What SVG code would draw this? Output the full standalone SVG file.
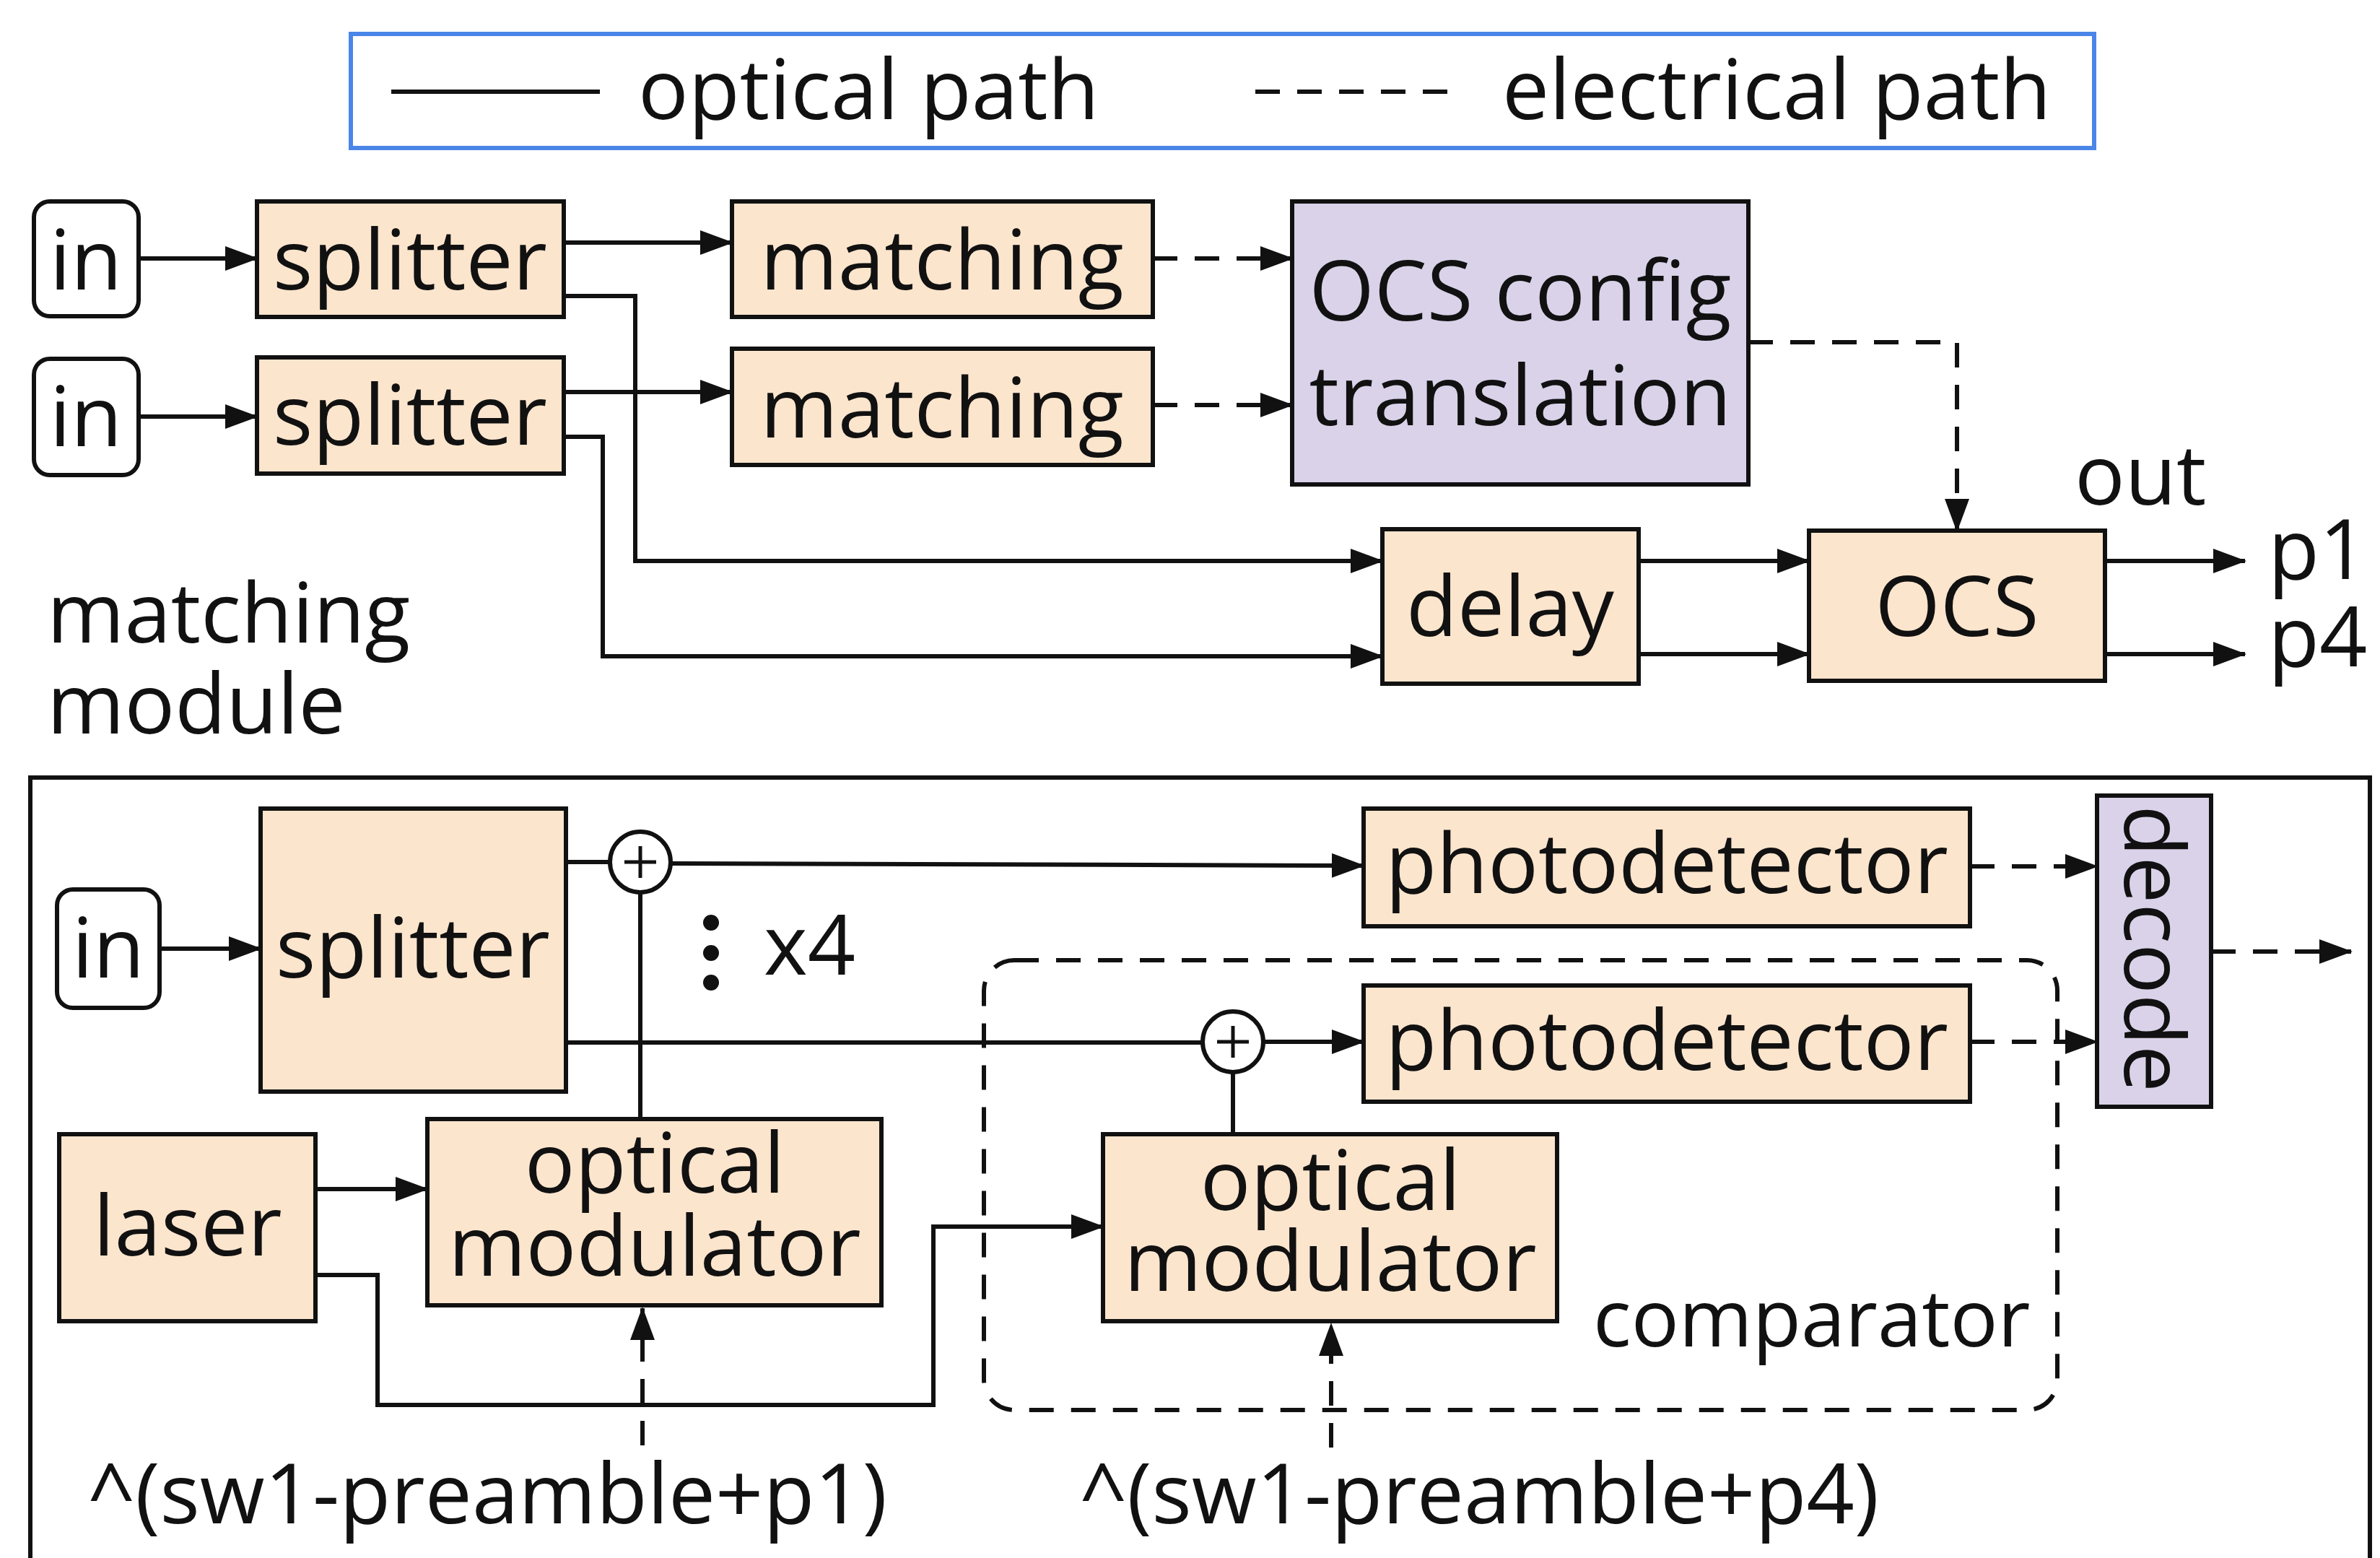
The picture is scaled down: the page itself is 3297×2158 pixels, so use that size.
<svg xmlns="http://www.w3.org/2000/svg" width="3297" height="2158" viewBox="0 0 3297 2158">
<style>
text{font-family:"Open Sans","Noto Sans","Liberation Sans",sans-serif;font-size:116px;fill:#111}
.c{text-anchor:middle}
.box{fill:#fce5cd;stroke:#111;stroke-width:6}
.pur{fill:#d9d2e9;stroke:#111;stroke-width:6}
.io{fill:#fff;stroke:#111;stroke-width:6}
.ln{fill:none;stroke:#111;stroke-width:6}
.dl{fill:none;stroke:#111;stroke-width:6;stroke-dasharray:34 24}
</style>
<defs>
<marker id="ah" markerUnits="userSpaceOnUse" markerWidth="46" markerHeight="34" refX="44" refY="17" orient="auto">
<path d="M0,0 L46,17 L0,34 z" fill="#111"/>
</marker>
</defs>
<rect width="3297" height="2158" fill="#fff"/>

<g id="legend">
<rect x="486" y="47" width="2415" height="158" fill="#fff" stroke="#4a86e8" stroke-width="6"/>
<line x1="542" y1="127" x2="831" y2="127" class="ln"/>
<text x="884" y="165">optical path</text>
<line x1="1739" y1="127" x2="2023" y2="127" class="dl"/>
<text x="2081" y="165">electrical path</text>
</g>

<g id="connectors">
<line x1="192" y1="358" x2="356" y2="358" class="ln" marker-end="url(#ah)"/>
<line x1="192" y1="577" x2="356" y2="577" class="ln" marker-end="url(#ah)"/>
<line x1="781" y1="336" x2="1014" y2="336" class="ln" marker-end="url(#ah)"/>
<line x1="781" y1="543" x2="1014" y2="543" class="ln" marker-end="url(#ah)"/>
<polyline points="781,410 880,410 880,777 1915,777" class="ln" marker-end="url(#ah)"/>
<polyline points="781,605 835,605 835,909 1915,909" class="ln" marker-end="url(#ah)"/>
<line x1="1597" y1="358" x2="1790" y2="358" class="dl" marker-end="url(#ah)"/>
<line x1="1597" y1="561" x2="1790" y2="561" class="dl" marker-end="url(#ah)"/>
<polyline points="2422,474 2711,474 2711,735" class="dl" marker-end="url(#ah)"/>
<line x1="2270" y1="777" x2="2506" y2="777" class="ln" marker-end="url(#ah)"/>
<line x1="2270" y1="906" x2="2506" y2="906" class="ln" marker-end="url(#ah)"/>
<line x1="2916" y1="777" x2="3110" y2="777" class="ln" marker-end="url(#ah)"/>
<line x1="2916" y1="906" x2="3110" y2="906" class="ln" marker-end="url(#ah)"/>

<line x1="221" y1="1314" x2="361" y2="1314" class="ln" marker-end="url(#ah)"/>
<line x1="784" y1="1194" x2="845" y2="1194" class="ln"/>
<line x1="929" y1="1196" x2="1889" y2="1199" class="ln" marker-end="url(#ah)"/>
<line x1="887" y1="1236" x2="887" y2="1550" class="ln"/>
<line x1="784" y1="1444" x2="1666" y2="1444" class="ln"/>
<line x1="1750" y1="1443" x2="1889" y2="1443" class="ln" marker-end="url(#ah)"/>
<line x1="1708" y1="1485" x2="1708" y2="1571" class="ln"/>
<line x1="437" y1="1647" x2="592" y2="1647" class="ln" marker-end="url(#ah)"/>
<polyline points="437,1766 523,1766 523,1946 1293,1946 1293,1699 1528,1699" class="ln" marker-end="url(#ah)"/>
<line x1="890" y1="2002" x2="890" y2="1812" class="dl" marker-end="url(#ah)"/>
<line x1="1844" y1="2005" x2="1844" y2="1834" class="dl" marker-end="url(#ah)"/>
<line x1="2729" y1="1200" x2="2905" y2="1200" class="dl" marker-end="url(#ah)"/>
<line x1="2729" y1="1443" x2="2905" y2="1443" class="dl" marker-end="url(#ah)"/>
<line x1="3063" y1="1318" x2="3257" y2="1318" class="dl" marker-end="url(#ah)"/>
</g>

<g id="in1"><rect x="47" y="279" width="145" height="159" rx="22" class="io"/><text x="119" y="401" class="c">in</text></g>
<g id="in2"><rect x="47" y="497" width="145" height="161" rx="22" class="io"/><text x="119" y="618" class="c">in</text></g>
<g id="splitter1"><rect x="356" y="279" width="425" height="160" class="box"/><text x="568" y="401" class="c">splitter</text></g>
<g id="splitter2"><rect x="356" y="495" width="425" height="161" class="box"/><text x="568" y="616" class="c">splitter</text></g>
<g id="matching1"><rect x="1014" y="279" width="583" height="160" class="box"/><text x="1305" y="401" class="c">matching</text></g>
<g id="matching2"><rect x="1014" y="483" width="583" height="161" class="box"/><text x="1305" y="606" class="c">matching</text></g>
<g id="ocsconfig"><rect x="1790" y="279" width="632" height="392" class="pur"/><text x="2106" y="444" class="c">OCS config</text><text x="2106" y="589" class="c">translation</text></g>
<g id="delay"><rect x="1915" y="733" width="355" height="214" class="box"/><text x="2092" y="881" class="c">delay</text></g>
<g id="ocs"><rect x="2506" y="735" width="410" height="208" class="box"/><text x="2711" y="881" class="c">OCS</text></g>
<g id="labels-top">
<text x="2874" y="699">out</text>
<text x="3142" y="802">p1</text>
<text x="3142" y="923">p4</text>
<text x="65" y="890">matching</text>
<text x="65" y="1016">module</text>
</g>

<g id="matching-module-frame">
<rect x="42" y="1077" width="3241" height="1140" fill="none" stroke="#111" stroke-width="6"/>
</g>
<g id="comparator"><rect x="1363" y="1330" width="1487" height="623" rx="42" class="dl"/><text x="2207" y="1865" style="font-size:110px">comparator</text></g>

<g id="in3"><rect x="79" y="1232" width="142" height="164" rx="22" class="io"/><text x="150" y="1354" class="c">in</text></g>
<g id="splitter3"><rect x="361" y="1120" width="423" height="392" class="box"/><text x="572" y="1354" class="c">splitter</text></g>
<g id="sum1"><circle cx="887" cy="1194" r="42" fill="#fff" stroke="#111" stroke-width="6"/><path d="M865,1194 H909 M887,1172 V1216" stroke="#111" stroke-width="5"/></g>
<g id="sum2"><circle cx="1708" cy="1443" r="42" fill="#fff" stroke="#111" stroke-width="6"/><path d="M1686,1443 H1730 M1708,1421 V1465" stroke="#111" stroke-width="5"/></g>
<g id="x4"><circle cx="985" cy="1278" r="11" fill="#111"/><circle cx="985" cy="1320" r="11" fill="#111"/><circle cx="985" cy="1361" r="11" fill="#111"/><text x="1058" y="1350">x4</text></g>
<g id="pd1"><rect x="1889" y="1120" width="840" height="163" class="box"/><text x="2309" y="1237" class="c">photodetector</text></g>
<g id="pd2"><rect x="1889" y="1365" width="840" height="161" class="box"/><text x="2309" y="1482" class="c">photodetector</text></g>
<g id="decode"><rect x="2905" y="1102" width="158" height="431" class="pur"/><text transform="translate(2984,1314) rotate(90)" x="0" y="41" class="c">decode</text></g>
<g id="laser"><rect x="82" y="1571" width="355" height="259" class="box"/><text x="260" y="1739" class="c">laser</text></g>
<g id="mod1"><rect x="592" y="1550" width="629" height="258" class="box"/><text x="907" y="1652" class="c">optical</text><text x="907" y="1767" class="c">modulator</text></g>
<g id="mod2"><rect x="1528" y="1571" width="629" height="259" class="box"/><text x="1843" y="1676" class="c">optical</text><text x="1843" y="1788" class="c">modulator</text></g>
<g id="labels-bottom">
<text x="121" y="2110">^(sw1-preamble+p1)</text>
<text x="1495" y="2110">^(sw1-preamble+p4)</text>
</g>
</svg>
